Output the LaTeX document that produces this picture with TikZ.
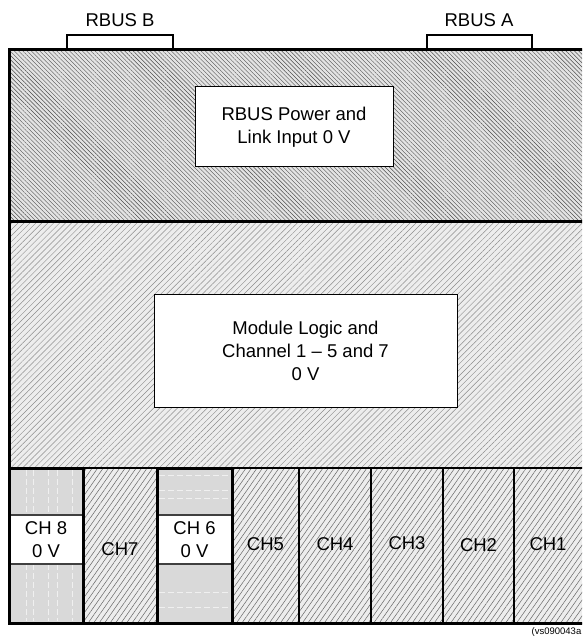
\documentclass[tikz,border=0pt]{standalone}
\usepackage{fontspec}
\setmainfont{Liberation Sans}
\usetikzlibrary{patterns.meta}
\definecolor{topbg}{gray}{0.89}
\definecolor{midbg}{gray}{0.93}
\definecolor{chgray}{gray}{0.85}
\definecolor{dashgray}{gray}{0.94}
\tikzset{
  lbl/.style={font=\fontsize{18.5}{23}\selectfont, align=center, inner sep=0pt},
  whitebox/.style={draw=black, line width=1pt, fill=white, inner sep=0pt, lbl},
  tab/.style={draw=black, line width=1.3pt, fill=white},
  topfill/.style={pattern={Lines[angle=-45,distance=3pt,line width=0.4pt]}, pattern color=black!70},
  midfill/.style={pattern={Lines[angle=45,distance=4.2pt,line width=0.45pt]}, pattern color=black!45},
  chfill/.style={pattern={Lines[angle=55,distance=4.5pt,line width=0.5pt]}, pattern color=black!60},
  frame/.style={draw=black, line width=3pt},
  divider/.style={draw=black, line width=1.8pt},
  grayline/.style={draw=dashgray, line width=0.6pt, dash pattern=on 6pt off 3pt}
}
\begin{document}
\begin{tikzpicture}[x=1pt,y=-1pt]
\useasboundingbox (0,0) rectangle (582,639);
\clip (0,0) rectangle (582,639);
% connector tabs
\draw[tab] (67,51) rectangle (173,35);
\draw[tab] (427,51) rectangle (532,35);
\node[lbl] (rbusb) at (120,20) {RBUS B};
\node[lbl] (rbusa) at (479,20) {RBUS A};
% top panel
\fill[topbg] (9,50) rectangle (590,221);
\path[topfill] (9,50) rectangle (590,221);
% middle panel
\fill[midbg] (9,221) rectangle (590,468);
\path[midfill] (9,221) rectangle (590,468);
% channel row background
\fill[midbg] (9,468) rectangle (590,623);
\path[chfill] (9,468) rectangle (590,623);
% CH8 gray
\fill[chgray] (9,468) rectangle (83,623);
\foreach \xx in {26,33,48,57,72}{
  \draw[grayline] (\xx,470) -- (\xx,515);
  \draw[grayline] (\xx,564) -- (\xx,621);
}
% CH6 gray
\fill[chgray] (157,468) rectangle (232,623);
\foreach \yy in {475,490,498,592,607}{
  \draw[grayline] (159,\yy) -- (230,\yy);
}
% white text boxes
\node[whitebox, minimum width=198pt, minimum height=80pt] (rbuspower) at (294,127) {RBUS Power and\\Link Input 0 V};
\node[whitebox, minimum width=303pt, minimum height=113pt] (module) at (305.5,350.5) {Module Logic and\\Channel 1 -- 5 and 7\\0 V};
\node[whitebox, draw=black!75, line width=1.5pt, minimum width=74pt, minimum height=49pt] (ch8) at (46,539.5) {CH 8\\0 V};
\node[whitebox, draw=black!75, line width=1.5pt, minimum width=75pt, minimum height=49pt] (ch6) at (194.5,539.5) {CH 6\\0 V};
% channel dividers
\foreach \xx in {299,371,443,514}{
  \draw[divider] (\xx,468) -- (\xx,623);
}
\draw[divider] (9,468) -- (590,468);
% thick frames for CH8 and CH6
\draw[frame] (9,468) rectangle (83,623);
\draw[frame] (157,468) rectangle (232,623);
% panel separator
\draw[frame] (9,221) -- (590,221);
% outer frame
\draw[frame] (9,623) -- (9,50) -- (590,50);
\draw[frame] (9,623) -- (590,623);
% channel labels
\node[lbl] (ch7) at (120,549) {CH7};
\node[lbl] (ch5) at (265.5,544) {CH5};
\node[lbl] (ch4) at (335,544) {CH4};
\node[lbl] (ch3) at (407,543) {CH3};
\node[lbl] (ch2) at (478.5,545) {CH2};
\node[lbl] (ch1) at (548,544) {CH1};
% reference code
\node[font=\fontsize{9.5}{11}\selectfont, anchor=east, inner sep=0pt] (ref) at (581.5,632) {(vs090043a};
\end{tikzpicture}
\end{document}
